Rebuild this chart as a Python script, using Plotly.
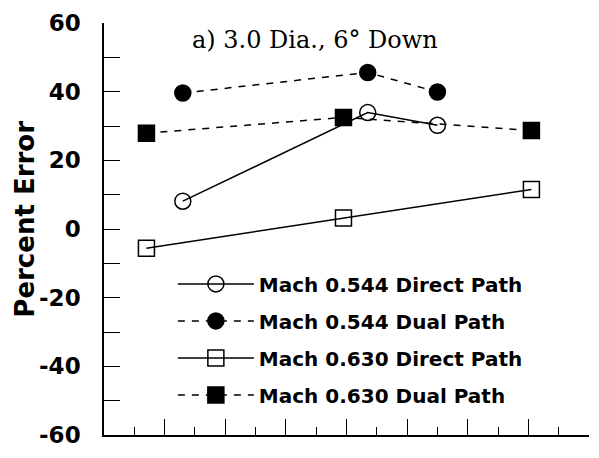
import plotly.graph_objects as go

# Measurement stations along the body (arbitrary axial units)
x_m544 = [2.6, 8.7, 11.0]
x_m630 = [1.4, 7.9, 14.1]

# Percent error for each Mach number / path method
m544_direct = [8.1, 33.9, 30.2]
m544_dual = [39.6, 45.6, 39.9]
m630_direct = [-5.6, 3.2, 11.5]
m630_dual = [27.9, 32.5, 28.7]

y_tick_vals = [-60, -40, -20, 0, 20, 40, 60]
y_tick_text = ["-60", "-40", "-20", "0", "20", "40", "60"]

series_names = [
    "Mach 0.544 Direct Path",
    "Mach 0.544 Dual Path",
    "Mach 0.630 Direct Path",
    "Mach 0.630 Dual Path",
]

fig = go.Figure()

styles = [
    (x_m544, m544_direct, "circle-open", "solid"),
    (x_m544, m544_dual, "circle", "7px,7px"),
    (x_m630, m630_direct, "square-open", "solid"),
    (x_m630, m630_dual, "square", "7px,7px"),
]

for i, (name, (xs, ys, sym, dash)) in enumerate(zip(series_names, styles)):
    fig.add_trace(go.Scatter(
        x=xs, y=ys, name=name, mode="lines+markers",
        line=dict(color="black", width=1.5, dash=dash),
        marker=dict(symbol=sym, size=16, color="black",
                    line=dict(color="black", width=1.5)),
        legendgroup=f"g{i}",
    ))

fig.update_layout(
    width=599, height=458,
    margin=dict(l=104, r=10, t=18, b=21),
    paper_bgcolor="white", plot_bgcolor="white",
    showlegend=True,
    legend=dict(
        x=0.142, y=0.414, xanchor="left", yanchor="top",
        bgcolor="rgba(0,0,0,0)",
        font=dict(family="DejaVu Sans", size=20, color="black", weight="bold"),
        itemwidth=76, tracegroupgap=8,
    ),
    xaxis=dict(
        range=[0, 16], showgrid=False, zeroline=False,
        showline=True, linecolor="black", linewidth=1.5,
        showticklabels=False,
        ticks="inside", tick0=0, dtick=2, ticklen=16, tickwidth=1.2,
        tickcolor="black",
        minor=dict(ticks="inside", dtick=1, tick0=0, ticklen=8,
                   tickwidth=1.2, tickcolor="black", showgrid=False),
    ),
    yaxis=dict(
        range=[-60, 60], showgrid=False, zeroline=False,
        showline=True, linecolor="black", linewidth=1.5,
        tickmode="array", tickvals=y_tick_vals, ticktext=y_tick_text,
        ticks="inside", ticklen=16, tickwidth=1.2, tickcolor="black",
        ticklabelstandoff=17,
        tickfont=dict(family="DejaVu Sans", size=23, color="black", weight="bold"),
        minor=dict(ticks="inside", dtick=10, tick0=0, ticklen=16,
                   tickwidth=1.2, tickcolor="black", showgrid=False),
    ),
    annotations=[
        dict(text="Percent Error", xref="paper", yref="paper",
             x=-0.163, y=0.525, xanchor="center", yanchor="middle",
             textangle=-90, showarrow=False,
             font=dict(family="DejaVu Sans", size=26, color="black", weight="bold")),
        dict(text="a) 3.0 Dia., 6° Down", xref="paper", yref="paper",
             x=0.435, y=0.959, xanchor="center", yanchor="middle",
             showarrow=False,
             font=dict(family="DejaVu Serif", size=24, color="black")),
    ],
)

fig.write_html("out.html")
